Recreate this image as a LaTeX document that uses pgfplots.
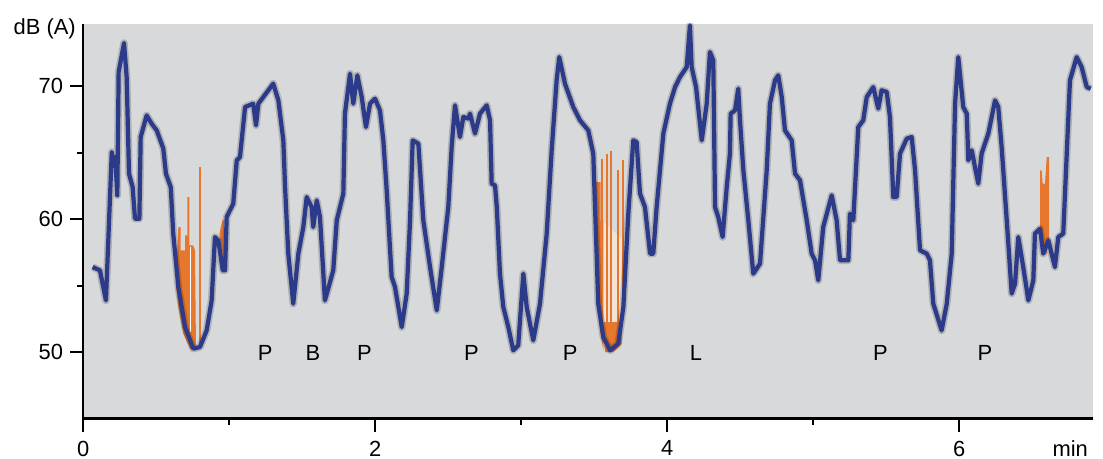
\documentclass[border=0pt]{standalone}
\usepackage{fontspec}
\setmainfont{Liberation Sans}
\usepackage{pgfplots}
\usepackage{pgfplotstable}
\pgfplotsset{compat=1.18}

\definecolor{bggrey}{HTML}{D8D9DB}
\definecolor{navy}{HTML}{2C3A8A}
\definecolor{tone}{HTML}{E8772E}
\definecolor{gapcol}{HTML}{F2E4D6}

% sound level, dB(A) against time in min
\pgfplotstableread{
t L
0.064 56.40
0.114 56.15
0.155 53.89
0.195 65.06
0.210 64.19
0.219 64.68
0.233 61.80
0.242 71.08
0.279 73.27
0.297 70.71
0.313 63.43
0.338 62.42
0.354 60.04
0.384 60.04
0.393 66.19
0.434 67.82
0.468 67.20
0.503 66.69
0.548 65.32
0.566 63.43
0.599 62.42
0.616 58.92
0.651 54.89
0.697 51.88
0.753 50.26
0.799 50.38
0.845 51.63
0.879 53.89
0.902 58.66
0.925 58.41
0.955 56.15
0.971 56.15
0.982 60.17
1.027 61.17
1.051 64.43
1.073 64.68
1.108 68.45
1.164 68.70
1.183 67.07
1.199 68.70
1.301 70.21
1.336 68.95
1.370 65.94
1.382 62.42
1.404 57.41
1.438 53.64
1.473 57.41
1.507 59.41
1.530 61.67
1.564 60.92
1.575 59.41
1.599 61.42
1.621 60.17
1.655 53.89
1.712 56.15
1.736 59.92
1.781 61.93
1.792 67.95
1.827 70.96
1.849 68.70
1.877 70.84
1.907 69.20
1.936 66.94
1.964 68.70
1.998 69.08
2.032 68.20
2.055 65.94
2.078 62.18
2.112 55.65
2.135 54.89
2.181 51.88
2.215 54.40
2.238 59.92
2.256 65.94
2.295 65.69
2.329 59.92
2.375 56.40
2.421 53.14
2.455 56.40
2.500 60.92
2.523 65.44
2.546 68.58
2.580 66.19
2.603 67.70
2.637 67.58
2.649 67.95
2.683 66.45
2.717 67.95
2.763 68.58
2.786 67.45
2.797 62.68
2.820 62.55
2.832 60.92
2.854 55.90
2.877 53.39
2.911 51.88
2.945 50.13
2.979 50.50
3.014 55.90
3.037 53.39
3.082 50.88
3.128 53.64
3.174 58.92
3.208 65.19
3.242 70.46
3.260 72.21
3.299 70.21
3.356 68.45
3.402 67.45
3.459 66.69
3.493 64.94
3.505 60.92
3.516 57.41
3.527 53.64
3.562 51.13
3.608 50.13
3.664 50.63
3.699 53.39
3.733 60.42
3.767 65.94
3.790 65.81
3.813 61.93
3.847 60.92
3.882 57.41
3.904 57.41
3.927 60.92
3.973 66.45
4.018 68.70
4.053 69.95
4.087 70.71
4.133 71.46
4.155 74.60
4.167 71.46
4.197 69.95
4.236 65.94
4.270 68.70
4.292 72.59
4.315 71.97
4.327 60.92
4.349 60.17
4.379 58.66
4.407 62.42
4.429 64.94
4.434 67.95
4.464 68.20
4.486 69.83
4.498 67.45
4.521 63.68
4.555 59.92
4.589 55.90
4.635 56.66
4.681 63.68
4.703 68.70
4.738 70.46
4.760 70.84
4.784 69.20
4.806 66.69
4.852 65.94
4.875 63.43
4.909 62.93
4.955 59.92
4.989 57.41
5.012 56.91
5.034 55.40
5.068 59.41
5.126 61.80
5.160 59.92
5.183 56.91
5.217 56.91
5.240 56.91
5.251 60.42
5.274 59.92
5.308 66.94
5.342 67.45
5.366 69.20
5.411 69.95
5.445 68.33
5.468 69.71
5.503 69.58
5.525 67.70
5.548 61.67
5.571 61.67
5.594 64.94
5.640 66.07
5.674 66.19
5.697 63.68
5.731 57.66
5.777 57.41
5.799 56.91
5.822 53.64
5.879 51.63
5.914 53.64
5.948 57.41
5.971 68.70
5.993 72.21
6.027 68.45
6.051 67.95
6.062 64.43
6.085 65.19
6.130 62.68
6.153 64.94
6.199 66.45
6.245 68.95
6.267 68.45
6.290 65.44
6.325 59.92
6.359 54.40
6.382 55.15
6.404 58.66
6.438 56.40
6.473 53.89
6.507 55.40
6.518 58.92
6.553 59.29
6.575 57.41
6.610 58.41
6.655 56.40
6.678 58.66
6.712 58.92
6.736 64.94
6.758 70.46
6.804 72.21
6.838 71.46
6.873 69.95
6.900 69.83
}\leveldata

\begin{document}
\fontsize{22}{24}\selectfont
\begin{tikzpicture}
\begin{axis}[
  scale only axis, width=1009.4bp, height=394.5bp,
  xmin=0, xmax=6.914, ymin=45, ymax=74.7,
  clip mode=individual,
  axis x line*=bottom, axis y line*=left,
  axis line style={line width=2bp, black},
  axis background/.style={fill=bggrey},
  xtick={0,2,4,6}, minor xtick={1,3,5},
  ytick={50,60,70}, minor ytick={55,65},
  tick align=outside, major tick length=13bp, minor tick length=6bp,
  every tick/.style={black, line width=2bp},
  /pgf/number format/assume math mode=true,
  ticklabel style={font=\fontsize{22}{24}\selectfont, inner sep=0pt},
  xticklabel style={anchor=north, yshift=-9bp},
  yticklabel style={anchor=east, xshift=-7bp},
]
% tonal components (orange)
\addplot[fill=tone, draw=none] coordinates {
  (0.633,55.15) (0.651,59.41) (0.667,59.41) (0.667,57.66) (0.697,57.66)
  (0.697,58.79) (0.712,58.79) (0.712,61.67) (0.726,61.67) (0.726,58.03)
  (0.753,58.03) (0.765,57.66) (0.772,50.13) (0.731,50.26) (0.685,51.39)
  (0.651,53.39)} -- cycle;
\addplot[white, line width=1.2bp] coordinates {(0.736,57.9) (0.736,51.5)};
\addplot[tone, line width=1.5bp] coordinates {(0.799,50.38) (0.799,63.93)};
\addplot[fill=tone, draw=none] coordinates {
  (0.932,58.92) (0.955,60.04) (0.964,59.79) (0.964,56.91) (0.948,57.66)} -- cycle;

\addplot[fill=gapcol, draw=none] coordinates {
  (3.555,59.9) (3.699,58.4) (3.699,52.26) (3.555,52.26)} -- cycle;
\addplot[fill=tone, draw=none] coordinates {
  (3.503,62.80) (3.544,62.80) (3.544,59.92) (3.562,59.92) (3.562,50.13)
  (3.539,51.63) (3.516,55.40) (3.503,59.16)} -- cycle;
\addplot[fill=tone, draw=none] coordinates {
  (3.562,52.26) (3.688,52.26) (3.688,50.63) (3.630,50.00) (3.573,50.00)} -- cycle;
\addplot[tone, line width=1.8bp] coordinates {(3.555,52.3) (3.555,64.56)};
\addplot[tone, line width=1.8bp] coordinates {(3.585,52.3) (3.585,64.94)};
\addplot[tone, line width=1.8bp] coordinates {(3.614,52.3) (3.614,65.14)};
\addplot[tone, line width=1.8bp] coordinates {(3.660,52.3) (3.660,63.68)};
\addplot[tone, line width=1.8bp] coordinates {(3.699,53.0) (3.699,64.48)};

\addplot[fill=tone, draw=none] coordinates {
  (6.553,63.68) (6.564,63.68) (6.571,62.68) (6.587,62.68) (6.599,64.68)
  (6.615,64.68) (6.615,58.66) (6.599,57.41) (6.575,57.66) (6.553,58.92)} -- cycle;

% level curve with soft shadow
\addplot[black, opacity=0.18, line width=7.5bp, line join=round] table {\leveldata};
\addplot[navy, line width=4.2bp, line join=round] table {\leveldata};

% sound source codes
\node[anchor=base] at (axis cs:1.245,49.38) {P};
\node[anchor=base] at (axis cs:1.573,49.38) {B};
\node[anchor=base] at (axis cs:1.926,49.38) {P};
\node[anchor=base] at (axis cs:2.659,49.38) {P};
\node[anchor=base] at (axis cs:3.334,49.38) {P};
\node[anchor=base] at (axis cs:4.197,49.38) {L};
\node[anchor=base] at (axis cs:5.460,49.38) {P};
\node[anchor=base] at (axis cs:6.176,49.38) {P};

\node[anchor=base east, inner sep=0pt, xshift=-7.3bp, yshift=-10.3bp] at (rel axis cs:0,1) {dB (A)};
\node[anchor=base east, inner sep=0pt, xshift=-4.7bp, yshift=-37.5bp] at (rel axis cs:1,0) {min};
\end{axis}
\pgfresetboundingbox
\path[use as bounding box] (current axis.south west) ++(-83.3bp,-40.5bp) rectangle ++(1103bp,459bp);
\end{tikzpicture}
\end{document}
